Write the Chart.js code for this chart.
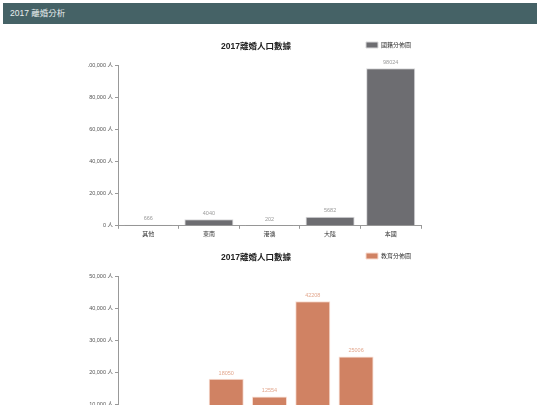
<!DOCTYPE html>
<html>
<head>
<meta charset="utf-8">
<script src="https://cdn.jsdelivr.net/npm/chart.js@4"></script>
<style>
body{margin:0;background:#fff;font-family:"Liberation Sans","Noto Sans CJK TC",sans-serif}
.header{position:absolute;left:3px;top:3px;width:527px;height:21px;line-height:21px;padding-left:7px;background:#456266;color:#e8eeee;font-size:8.5px;font-weight:normal}
.block{position:absolute;left:0;width:540px;height:211px}
.block .title{position:absolute;left:0;top:9px;width:512px;text-align:center;font-size:8.5px;font-weight:bold;color:#222}
</style>
</head>
<body>

<div class="header">2017 離婚分析</div>

<div class="block" style="top:30px">
<div class="title">2017離婚人口數據</div>
<canvas id="nationChart"></canvas>
</div>

<div class="block" style="top:241px">
<div class="title">2017離婚人口數據</div>
<canvas id="eduChart"></canvas>
</div>

<script>

const nationLabels = ["其他","東南","港澳","大陸","本國"]
const nationValues = [666,4040,202,5682,98024]

const eduLabels = ["不識字","國小","國中","高中職","專科","大學","研究所"]
const eduValues = [1200,6500,18050,12554,42208,25006,4300]

const FONT = "'Liberation Sans','Noto Sans CJK TC',sans-serif"


/* ======================
   VALUE LABELS
====================== */

const valueLabels={

id:"valueLabels",

afterDatasetsDraw(chart,args,opts){

const ctx=chart.ctx
const meta=chart.getDatasetMeta(0)
const data=chart.data.datasets[0].data

ctx.save()
ctx.font="5.5px "+FONT
ctx.fillStyle=opts.color
ctx.textAlign="center"
ctx.textBaseline="bottom"

meta.data.forEach((bar,i)=>{
ctx.fillText(data[i],bar.x,bar.y-3)
})

ctx.restore()

}

}


function makeChart(id,labels,values,legendText,color,border,labelColor,max,step){

new Chart(document.getElementById(id),{

type:"bar",

data:{

labels:labels,

datasets:[{

label:legendText,

data:values,

backgroundColor:color,

borderColor:border,

borderWidth:1,

barPercentage:0.9,

categoryPercentage:0.9

}]

},

options:{

responsive:true,

maintainAspectRatio:false,

animation:false,

layout:{
padding:{top:2,left:88,right:119,bottom:1}
},

plugins:{

legend:{
align:"end",
labels:{
boxWidth:12,
boxHeight:6,
padding:10,
color:"#333",
font:{family:FONT,size:6}
}
},

// empty spacer between legend and plot
subtitle:{
display:true,
text:" ",
weight:500,
font:{size:1},
padding:{top:0,bottom:6}
},

tooltip:{enabled:false},

valueLabels:{color:labelColor}

},

scales:{

x:{
border:{color:"#999"},
grid:{drawOnChartArea:false,tickLength:3,color:"#999",offset:true},
ticks:{color:"#333",padding:2,font:{family:FONT,size:6}}
},

y:{
min:0,
max:max,
afterFit:(s)=>{s.width=30},
border:{color:"#999"},
grid:{drawOnChartArea:false,tickLength:3,color:"#999"},
ticks:{
stepSize:step,
color:"#555",
padding:2,
font:{family:FONT,size:5.5},
callback:(v)=>v.toLocaleString("en-US")+" 人"
}
}

}

},

plugins:[valueLabels]

})

}

makeChart("nationChart",nationLabels,nationValues,"國籍分佈圖","#6d6d71","#d8d8da","#9a9a9a",100000,20000)

makeChart("eduChart",eduLabels,eduValues,"教育分佈圖","#d08263","#f9ddd2","#e3a88f",50000,10000)

</script>

</body>
</html>
